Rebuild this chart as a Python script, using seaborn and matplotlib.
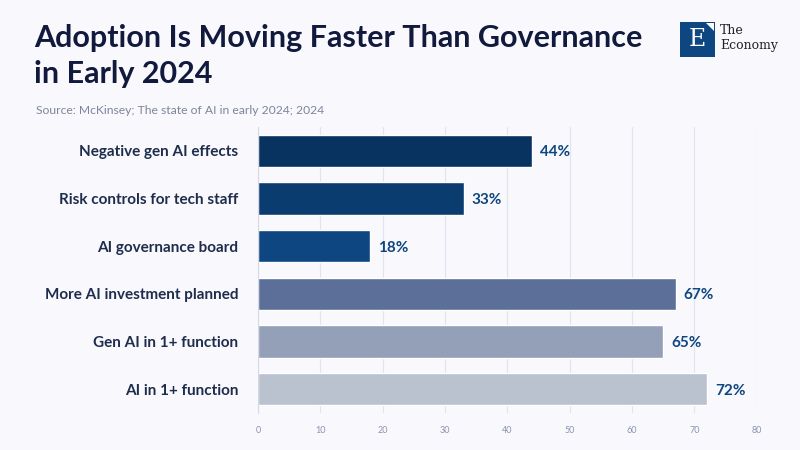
import matplotlib
matplotlib.use('Agg')
import matplotlib.pyplot as plt
from matplotlib.patches import Rectangle, Polygon
import pandas as pd
import seaborn as sns

# data
categories = [
    'Negative gen AI effects',
    'Risk controls for tech staff',
    'AI governance board',
    'More AI investment planned',
    'Gen AI in 1+ function',
    'AI in 1+ function',
]
values = [44, 33, 18, 67, 65, 72]
bar_colors = ['#08325f', '#0b3c70', '#0d4680', '#5b6f99', '#949fb8', '#bac1cf']
x_ticks = [0, 10, 20, 30, 40, 50, 60, 70, 80]

BG = '#f8f8fd'
NAVY = '#111a3d'
LABEL = '#1f2d4d'
VALUE = '#0d4680'
MUTED = '#7d859a'

sns.set_theme(style='white')
plt.rcParams['font.family'] = ['Lato', 'DejaVu Sans']

df = pd.DataFrame({'category': categories, 'value': values})

fig = plt.figure(figsize=(8, 4.5), dpi=100, facecolor=BG)
ax = fig.add_axes([0.3225, 0.0822, 0.6235, 0.6356], facecolor=BG)

sns.barplot(data=df, x='value', y='category', hue='category', palette=bar_colors,
            order=categories, hue_order=categories, orient='h', width=0.68,
            legend=False, saturation=1, ax=ax)

ax.set_xlim(0, 80)
ax.set_ylim(5.5, -0.5)
ax.set_xticks(x_ticks)
ax.set_xticklabels([str(t) for t in x_ticks], fontsize=6.5, color='#8a93b0')
ax.tick_params(axis='x', length=3, width=0.6, color='#d5d9e3', pad=6)
ax.tick_params(axis='y', length=0, pad=14)
for lbl in ax.get_yticklabels():
    lbl.set_fontsize(11)
    lbl.set_fontweight('bold')
    lbl.set_color(LABEL)
ax.set_xlabel('')
ax.set_ylabel('')
ax.grid(axis='x', color='#e1e4ec', linewidth=0.8)
ax.set_axisbelow(True)
for side in ['top', 'right', 'bottom']:
    ax.spines[side].set_visible(False)
ax.spines['left'].set_color('#d5d9e3')
ax.spines['left'].set_linewidth(0.8)

for i, v in enumerate(values):
    ax.text(v + 1.3, i + 0.03, f'{v}%', va='center', ha='left', fontsize=11,
            fontweight='bold', color=VALUE)

# title block
fig.text(0.043, 0.915, 'Adoption Is Moving Faster Than Governance', fontsize=22,
         fontweight='bold', color=NAVY, va='center')
fig.text(0.043, 0.835, 'in Early 2024', fontsize=22, fontweight='bold',
         color=NAVY, va='center')
fig.text(0.045, 0.755, 'Source: McKinsey; The state of AI in early 2024; 2024',
         fontsize=8.7, color=MUTED, va='center')

# logo
fig.patches.append(Rectangle((680 / 800, 1 - 57 / 450), 35 / 800, 35 / 450,
                             transform=fig.transFigure, facecolor='#0d4680',
                             edgecolor='none'))
fig.patches.append(Polygon([(706 / 800, 1 - 23 / 450), (714 / 800, 1 - 23 / 450),
                            (714 / 800, 1 - 31 / 450)], closed=True,
                           transform=fig.transFigure, facecolor='white',
                           edgecolor='none'))
fig.text(697.5 / 800, 1 - 40 / 450, 'E', fontsize=17, color='white',
         family='DejaVu Serif', ha='center', va='center')
fig.text(720 / 800, 1 - 31 / 450, 'The', fontsize=9, color='#222222',
         family='DejaVu Serif', ha='left', va='center')
fig.text(720 / 800, 1 - 45 / 450, 'Economy', fontsize=9, color='#222222',
         family='DejaVu Serif', ha='left', va='center')

fig.savefig('out.png', dpi=100, facecolor=BG)
